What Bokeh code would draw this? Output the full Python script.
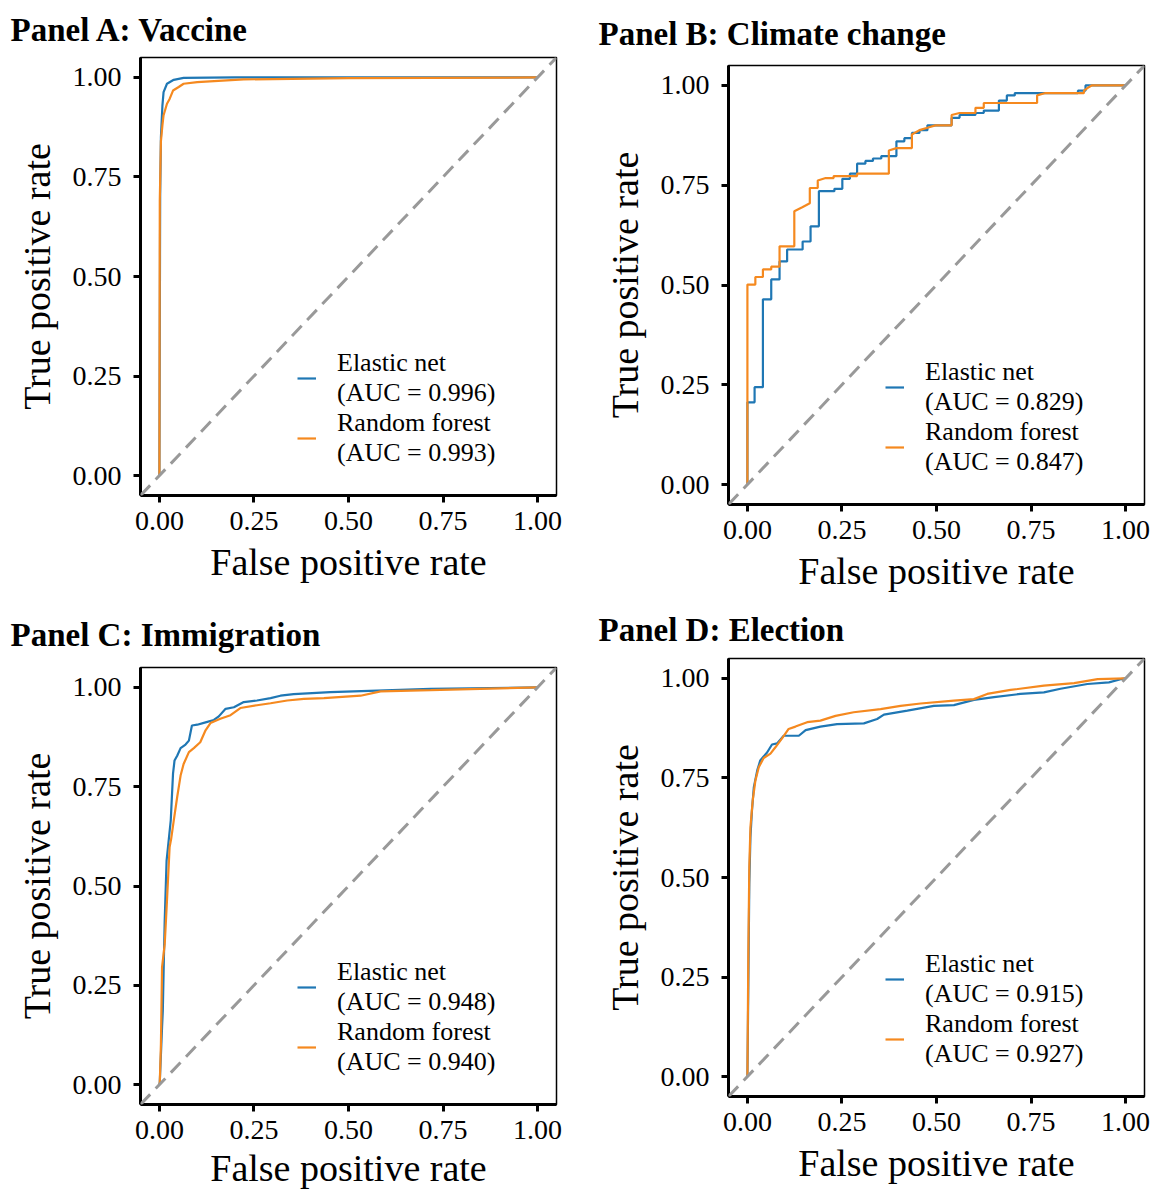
from bokeh.plotting import figure
from bokeh.layouts import column, row
from bokeh.models import Slope, FixedTicker, NumeralTickFormatter, Range1d
from bokeh.embed import file_html
from bokeh.resources import INLINE

FONT = "Liberation Serif"
BLUE = "#1f77b4"
ORANGE = "#f5891f"

tick_values = [0.0, 0.25, 0.50, 0.75, 1.00]
x_title = "False positive rate"
y_title = "True positive rate"
series_names = ["Elastic net", "Random forest"]

# Panel A: Vaccine
a_title = "Panel A: Vaccine"
a_auc = [0.996, 0.993]
a_en_fpr = [0.0, 0.002, 0.004, 0.008, 0.011, 0.02, 0.038, 0.064, 0.2, 1.0]
a_en_tpr = [0.0, 0.70, 0.85, 0.93, 0.963, 0.984, 0.994, 0.999, 1.0, 1.0]
a_rf_fpr = [0.0, 0.001, 0.004, 0.008, 0.011, 0.02, 0.027, 0.036, 0.051, 0.064, 0.1, 0.223, 0.5, 1.0]
a_rf_tpr = [0.0, 0.69, 0.84, 0.88, 0.905, 0.934, 0.946, 0.967, 0.976, 0.984, 0.988, 0.995, 0.998, 1.0]

# Panel B: Climate change
b_title = "Panel B: Climate change"
b_auc = [0.829, 0.847]
b_en_fpr = [0.0, 0.0, 0.019, 0.019, 0.041, 0.041, 0.063, 0.063, 0.085, 0.085, 0.105, 0.105,
            0.146, 0.146, 0.167, 0.167, 0.189, 0.189, 0.230, 0.230, 0.251, 0.251, 0.271, 0.271,
            0.290, 0.290, 0.312, 0.312, 0.332, 0.332, 0.354, 0.354, 0.394, 0.394, 0.415, 0.415,
            0.435, 0.435, 0.455, 0.455, 0.476, 0.476, 0.540, 0.540, 0.561, 0.561, 0.603, 0.603,
            0.625, 0.625, 0.665, 0.665, 0.686, 0.686, 0.707, 0.707, 0.874, 0.874, 0.894, 0.894, 1.0]
b_en_tpr = [0.0, 0.206, 0.206, 0.244, 0.244, 0.464, 0.464, 0.514, 0.514, 0.559, 0.559, 0.589,
            0.589, 0.609, 0.609, 0.647, 0.647, 0.735, 0.735, 0.741, 0.741, 0.766, 0.766, 0.779,
            0.779, 0.804, 0.804, 0.811, 0.811, 0.817, 0.817, 0.823, 0.823, 0.860, 0.860, 0.868,
            0.868, 0.881, 0.881, 0.888, 0.888, 0.900, 0.900, 0.919, 0.919, 0.926, 0.926, 0.931,
            0.931, 0.937, 0.937, 0.962, 0.962, 0.975, 0.975, 0.981, 0.981, 0.987, 0.987, 1.0, 1.0]
b_rf_fpr = [0.0, 0.0, 0.021, 0.021, 0.041, 0.041, 0.063, 0.063, 0.085, 0.085, 0.124, 0.124,
            0.145, 0.165, 0.165, 0.186, 0.186, 0.207, 0.228, 0.228, 0.290, 0.290, 0.374, 0.374,
            0.394, 0.435, 0.435, 0.455, 0.476, 0.497, 0.540, 0.540, 0.561, 0.603, 0.603, 0.625,
            0.625, 0.766, 0.766, 0.788, 0.890, 0.890, 0.900, 0.910, 1.0]
b_rf_tpr = [0.0, 0.501, 0.501, 0.520, 0.520, 0.539, 0.539, 0.546, 0.546, 0.597, 0.597, 0.685,
            0.695, 0.705, 0.743, 0.743, 0.762, 0.768, 0.768, 0.773, 0.773, 0.779, 0.779, 0.837,
            0.843, 0.843, 0.877, 0.888, 0.894, 0.900, 0.900, 0.926, 0.931, 0.931, 0.944, 0.944,
            0.956, 0.956, 0.975, 0.981, 0.981, 0.987, 0.994, 1.0, 1.0]

# Panel C: Immigration
c_title = "Panel C: Immigration"
c_auc = [0.948, 0.940]
c_en_fpr = [0.0, 0.001, 0.007, 0.009, 0.011, 0.014, 0.019, 0.030, 0.036, 0.040, 0.047, 0.056,
            0.069, 0.078, 0.086, 0.100, 0.122, 0.144, 0.157, 0.175, 0.197, 0.223, 0.258, 0.294,
            0.320, 0.355, 0.452, 0.576, 0.717, 1.0]
c_en_tpr = [0.0, 0.006, 0.144, 0.186, 0.279, 0.413, 0.564, 0.665, 0.783, 0.816, 0.828, 0.847,
            0.856, 0.866, 0.904, 0.906, 0.912, 0.918, 0.927, 0.946, 0.950, 0.963, 0.967, 0.973,
            0.979, 0.983, 0.988, 0.992, 0.996, 1.0]
c_rf_fpr = [0.0, 0.001, 0.004, 0.007, 0.014, 0.020, 0.027, 0.031, 0.038, 0.047, 0.056, 0.064,
            0.078, 0.091, 0.108, 0.122, 0.135, 0.161, 0.188, 0.214, 0.258, 0.294, 0.338, 0.382,
            0.435, 0.532, 0.585, 0.717, 1.0]
c_rf_tpr = [0.0, 0.006, 0.102, 0.296, 0.353, 0.463, 0.598, 0.618, 0.665, 0.724, 0.778, 0.807,
            0.837, 0.847, 0.862, 0.892, 0.910, 0.921, 0.930, 0.948, 0.955, 0.960, 0.967, 0.971,
            0.973, 0.979, 0.990, 0.993, 1.0]

# Panel D: Election
d_title = "Panel D: Election"
d_auc = [0.915, 0.927]
d_en_fpr = [0.0, 0.0025, 0.005, 0.008, 0.012, 0.017, 0.026, 0.034, 0.052, 0.065, 0.079, 0.096,
            0.136, 0.154, 0.193, 0.237, 0.308, 0.343, 0.361, 0.423, 0.493, 0.546, 0.599, 0.652,
            0.722, 0.784, 0.828, 0.899, 0.956, 0.987, 1.0]
d_en_tpr = [0.0, 0.233, 0.484, 0.601, 0.668, 0.727, 0.769, 0.794, 0.814, 0.834, 0.837, 0.856,
            0.856, 0.870, 0.879, 0.885, 0.887, 0.898, 0.909, 0.919, 0.931, 0.933, 0.946, 0.953,
            0.961, 0.965, 0.974, 0.986, 0.990, 0.998, 1.0]
d_rf_fpr = [0.0, 0.0025, 0.005, 0.008, 0.014, 0.021, 0.030, 0.043, 0.061, 0.074, 0.092, 0.109,
            0.127, 0.158, 0.193, 0.233, 0.281, 0.352, 0.405, 0.458, 0.546, 0.599, 0.634, 0.696,
            0.784, 0.864, 0.926, 1.0]
d_rf_tpr = [0.0, 0.317, 0.526, 0.626, 0.693, 0.743, 0.777, 0.800, 0.811, 0.827, 0.850, 0.873,
            0.879, 0.890, 0.894, 0.906, 0.915, 0.923, 0.931, 0.937, 0.944, 0.948, 0.961, 0.971,
            0.982, 0.988, 0.998, 1.0]


def make_panel(title, en_fpr, en_tpr, rf_fpr, rf_tpr, aucs, width, height,
               bl, br, bt, bb, tick_standoff, label_standoff):
    p = figure(width=width, height=height,
               x_range=Range1d(-0.05, 1.05), y_range=Range1d(-0.05, 1.05),
               output_backend="svg", toolbar_location=None, tools="",
               min_border_left=bl, min_border_right=br,
               min_border_top=bt, min_border_bottom=bb)
    p.background_fill_color = "white"
    p.border_fill_color = "white"
    p.outline_line_color = "black"
    p.outline_line_width = 1.5
    p.grid.visible = False

    p.title.text = title
    p.title.text_font = FONT
    p.title.text_font_size = "33px"
    p.title.text_font_style = "bold"
    p.title.text_color = "black"
    p.title.align = "left"
    p.title.vertical_align = "top"
    p.title.offset = -130
    p.title.standoff = bt - 41

    p.add_layout(Slope(gradient=1, y_intercept=0, line_color="#999999",
                       line_width=3, line_dash="14 8"))

    p.line(en_fpr, en_tpr, line_color=BLUE, line_width=2.2,
           legend_label=f"{series_names[0]}\n(AUC = {aucs[0]:.3f})")
    p.line(rf_fpr, rf_tpr, line_color=ORANGE, line_width=2.2,
           legend_label=f"{series_names[1]}\n(AUC = {aucs[1]:.3f})")

    for ax in (p.xaxis[0], p.yaxis[0]):
        ax.ticker = FixedTicker(ticks=tick_values)
        ax.formatter = NumeralTickFormatter(format="0.00")
        ax.axis_line_width = 3
        ax.axis_line_color = "black"
        ax.major_tick_line_width = 3
        ax.major_tick_line_color = "black"
        ax.major_tick_out = 7
        ax.major_tick_in = 0
        ax.minor_tick_line_color = None
        ax.major_label_text_font = FONT
        ax.major_label_text_font_size = "28px"
        ax.major_label_text_color = "black"
        ax.axis_label_text_font = FONT
        ax.axis_label_text_font_size = "38px"
        ax.axis_label_text_font_style = "normal"
        ax.axis_label_text_color = "black"
    p.xaxis.axis_label = x_title
    p.yaxis.axis_label = y_title
    p.xaxis.major_label_standoff = tick_standoff
    p.xaxis.axis_label_standoff = label_standoff
    p.yaxis.major_label_standoff = 12
    p.yaxis.axis_label_standoff = 12

    lg = p.legend[0]
    lg.location = (157, 27)
    lg.background_fill_color = "white"
    lg.background_fill_alpha = 1.0
    lg.border_line_color = None
    lg.padding = 5
    lg.margin = 0
    lg.spacing = 0
    lg.glyph_width = 19
    lg.glyph_height = 20
    lg.label_standoff = 21
    lg.label_text_font = FONT
    lg.label_text_font_size = "26px"
    lg.label_text_color = "black"
    return p


pA = make_panel(a_title, a_en_fpr, a_en_tpr, a_rf_fpr, a_rf_tpr, a_auc,
                583, 600, 140, 27, 57, 105, 9, 8)
pC = make_panel(c_title, c_en_fpr, c_en_tpr, c_rf_fpr, c_rf_tpr, c_auc,
                583, 591, 140, 27, 67, 87, 9, 5)
pB = make_panel(b_title, b_en_fpr, b_en_tpr, b_rf_fpr, b_rf_tpr, b_auc,
                568, 600, 145, 7, 65, 96, 9, 8)
pD = make_panel(d_title, d_en_fpr, d_en_tpr, d_rf_fpr, d_rf_tpr, d_auc,
                568, 591, 145, 7, 58, 95, 9, 8)

layout = row(column(pA, pC), column(pB, pD))
open("out.html", "w").write(file_html(layout, INLINE))
